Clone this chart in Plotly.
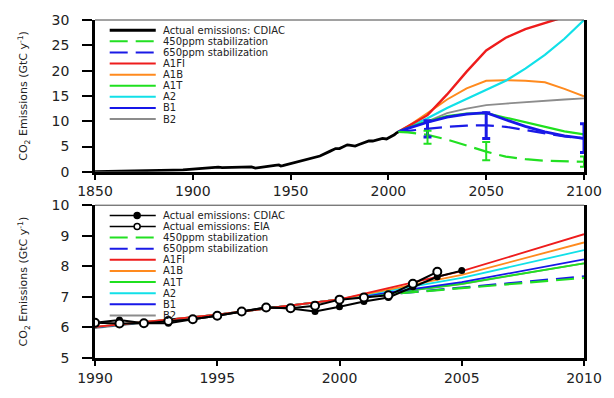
import plotly.graph_objects as go
from plotly.subplots import make_subplots

# ---------------- Top panel data (1850-2100) ----------------
hist_years = [1850, 1855, 1860, 1865, 1870, 1875, 1880, 1885, 1890, 1895, 1900, 1905,
              1910, 1913, 1915, 1918, 1919, 1920, 1921, 1925, 1929, 1930, 1932, 1935,
              1937, 1940, 1942, 1944, 1945, 1946, 1950, 1955, 1960, 1965, 1970, 1973,
              1975, 1979, 1980, 1982, 1983, 1985, 1988, 1990, 1992, 1995, 1997, 1999,
              2000, 2002, 2003, 2004, 2005]
hist_vals = [0.05, 0.07, 0.09, 0.12, 0.15, 0.19, 0.24, 0.27, 0.36, 0.40, 0.53, 0.66,
             0.82, 0.94, 0.84, 0.89, 0.80, 0.93, 0.80, 0.97, 1.05, 0.98, 0.75, 0.92,
             1.13, 1.30, 1.30, 1.37, 1.16, 1.24, 1.63, 2.04, 2.58, 3.13, 4.05, 4.60,
             4.60, 5.34, 5.30, 5.10, 5.10, 5.40, 5.90, 6.10, 6.10, 6.40, 6.60, 6.50,
             6.70, 6.98, 7.33, 7.66, 7.86]

scen_years = [2005, 2010, 2020, 2030, 2040, 2050, 2060, 2070, 2080, 2090, 2100]
a1fi = [7.9, 9.0, 11.2, 15.3, 19.8, 24.0, 26.5, 28.2, 29.4, 30.6, 31.5]
a1b = [7.9, 9.0, 11.6, 14.3, 16.5, 18.0, 18.1, 18.0, 17.7, 16.4, 14.9]
a1t = [7.9, 8.7, 10.0, 11.0, 11.5, 11.6, 10.7, 9.8, 8.8, 8.0, 7.4]
a2 = [7.9, 8.8, 10.6, 12.6, 14.4, 16.1, 18.0, 20.4, 23.1, 26.3, 30.0]
b1 = [7.9, 8.6, 9.8, 10.8, 11.4, 11.7, 10.3, 9.0, 7.9, 7.1, 6.6]
b2 = [7.9, 8.7, 10.0, 11.6, 12.5, 13.2, 13.5, 13.8, 14.1, 14.3, 14.5]
s450 = [7.9, 7.8, 7.3, 6.4, 5.2, 4.0, 3.0, 2.5, 2.2, 2.1, 2.0]
s650 = [7.9, 8.1, 8.6, 8.9, 9.15, 9.2, 8.9, 8.3, 7.6, 7.0, 6.6]

err_years = [2020, 2050, 2100]
err450_c = [7.3, 4.0, 2.0]
err450_up = [0.8, 1.9, 1.05]
err450_dn = [1.75, 1.7, 1.0]
err650_c = [8.6, 9.2, 6.6]
err650_up = [1.5, 2.5, 2.9]
err650_dn = [1.7, 2.6, 2.75]

# ---------------- Bottom panel data (1990-2010) ----------------
cdiac_years = list(range(1990, 2006))
cdiac_vals = [6.15, 6.24, 6.14, 6.14, 6.27, 6.38, 6.52, 6.66, 6.62, 6.52, 6.68,
              6.85, 6.98, 7.33, 7.66, 7.86]
eia_years = list(range(1990, 2005))
eia_vals = [6.15, 6.13, 6.14, 6.21, 6.27, 6.38, 6.52, 6.65, 6.63, 6.71, 6.91,
            6.98, 7.05, 7.43, 7.82]

scen_b_years = [1990, 1995, 2000, 2005, 2010]
a1fi_b = [6.02, 6.42, 6.92, 7.84, 9.05]
a1b_b = [6.02, 6.42, 6.92, 7.72, 8.78]
a1t_b = [6.0, 6.42, 6.92, 7.43, 8.10]
a2_b = [6.02, 6.42, 6.92, 7.62, 8.53]
b1_b = [6.0, 6.42, 6.92, 7.48, 8.23]
b2_b = [5.98, 6.42, 6.92, 7.42, 8.10]
stab_b_years = [2002.5, 2010]
s450_b = [7.12, 7.62]
s650_b = [7.12, 7.67]

# ---------------- Styles ----------------
C_BLACK = "#000000"
C_G450 = "#22e022"
C_B650 = "#1a1ae6"
C_A1FI = "#ee1c1c"
C_A1B = "#ff8a1e"
C_A1T = "#1fe01f"
C_A2 = "#11e0e8"
C_B1 = "#1717e8"
C_B2 = "#8c8c8c"
DASH = "18px,8px"
FONT = "DejaVu Sans"

fig = make_subplots(rows=2, cols=1)

def line(x, y, color, width, row, dash=None):
    fig.add_trace(go.Scatter(x=x, y=y, mode="lines", showlegend=False,
                             line=dict(color=color, width=width, dash=dash),
                             hoverinfo="skip"), row=row, col=1)

# Top panel
line(scen_years, b2, C_B2, 1.8, 1)
line(scen_years, a1b, C_A1B, 2, 1)
line(scen_years, a2, C_A2, 2.2, 1)
line(scen_years, a1fi, C_A1FI, 2.4, 1)
line(scen_years, a1t, C_A1T, 2.2, 1)
line(scen_years, b1, C_B1, 2.8, 1)
line(scen_years, s650, C_B650, 2.2, 1, DASH)
line(scen_years, s450, C_G450, 2.2, 1, DASH)
fig.add_trace(go.Scatter(x=err_years, y=err650_c, mode="markers", showlegend=False,
                         marker=dict(size=1, color="rgba(0,0,0,0)"),
                         error_y=dict(type="data", symmetric=False, array=err650_up,
                                      arrayminus=err650_dn, color=C_B650, thickness=3, width=4)),
              row=1, col=1)
fig.add_trace(go.Scatter(x=err_years, y=err450_c, mode="markers", showlegend=False,
                         marker=dict(size=1, color="rgba(0,0,0,0)"),
                         error_y=dict(type="data", symmetric=False, array=err450_up,
                                      arrayminus=err450_dn, color=C_G450, thickness=2, width=4)),
              row=1, col=1)
line(hist_years, hist_vals, C_BLACK, 2.8, 1)

# Bottom panel
line(scen_b_years, b2_b, C_B2, 1.8, 2)
line(scen_b_years, a1t_b, C_A1T, 1.8, 2)
line(scen_b_years, b1_b, C_B1, 1.8, 2)
line(scen_b_years, a2_b, C_A2, 1.8, 2)
line(scen_b_years, a1b_b, C_A1B, 1.8, 2)
line(scen_b_years, a1fi_b, C_A1FI, 1.8, 2)
line(stab_b_years, s650_b, C_B650, 2.2, 2, DASH)
line(stab_b_years, s450_b, C_G450, 2.2, 2, DASH)
fig.add_trace(go.Scatter(x=cdiac_years, y=cdiac_vals, mode="lines+markers", showlegend=False,
                         line=dict(color=C_BLACK, width=2),
                         marker=dict(symbol="circle", size=7, color=C_BLACK)), row=2, col=1)
fig.add_trace(go.Scatter(x=eia_years, y=eia_vals, mode="lines+markers", showlegend=False,
                         line=dict(color=C_BLACK, width=2),
                         marker=dict(symbol="circle", size=8, color="white",
                                     line=dict(color=C_BLACK, width=2))), row=2, col=1)

# ---------------- Custom compact legends ----------------
top_entries = [("Actual emissions: CDIAC", C_BLACK, None, 3, None),
               ("450ppm stabilization", C_G450, DASH, 2, None),
               ("650ppm stabilization", C_B650, DASH, 2, None),
               ("A1FI", C_A1FI, None, 2, None),
               ("A1B", C_A1B, None, 2, None),
               ("A1T", C_A1T, None, 2, None),
               ("A2", C_A2, None, 2, None),
               ("B1", C_B1, None, 2, None),
               ("B2", C_B2, None, 2, None)]
bot_entries = [("Actual emissions: CDIAC", C_BLACK, None, 1.5, "filled"),
               ("Actual emissions: EIA", C_BLACK, None, 1.5, "open"),
               ("450ppm stabilization", C_G450, DASH, 2, None),
               ("650ppm stabilization", C_B650, DASH, 2, None),
               ("A1FI", C_A1FI, None, 2, None),
               ("A1B", C_A1B, None, 2, None),
               ("A1T", C_A1T, None, 2, None),
               ("A2", C_A2, None, 2, None),
               ("B1", C_B1, None, 2, None),
               ("B2", C_B2, None, 2, None)]

PW = 499.0
def add_legend(entries, xr, yr, ph, first, step):
    for i, (name, color, dash, w, mk) in enumerate(entries):
        yd = 1 - (first + step * i) / ph
        fig.add_shape(type="line", xref=xr, yref=yr, x0=15 / PW, x1=62 / PW, y0=yd, y1=yd,
                      line=dict(color=color, width=w, dash=dash))
        if mk:
            fig.add_shape(type="circle", xref=xr, yref=yr, xsizemode="pixel", ysizemode="pixel",
                          xanchor=43 / PW, yanchor=yd, x0=-3, x1=3, y0=-3, y1=3,
                          fillcolor="black" if mk == "filled" else "white",
                          line=dict(color="black", width=1.5))
        fig.add_annotation(xref=xr, yref=yr, x=68 / PW, y=yd, text=name, showarrow=False,
                           xanchor="left", yanchor="middle", borderpad=0,
                           font=dict(family=FONT, size=10, color="#222"))

add_legend(top_entries, "x domain", "y domain", 164.0, 11, 12)
add_legend(bot_entries, "x2 domain", "y2 domain", 165.0, 11, 12)

# top border lines
for xr, yr in (("x domain", "y domain"), ("x2 domain", "y2 domain")):
    fig.add_shape(type="line", xref=xr, yref=yr, x0=0, x1=1, y0=1, y1=1,
                  line=dict(color="#444", width=1))

axis_common = dict(showgrid=False, zeroline=False, showline=True, linecolor="black",
                   ticks="outside", tickcolor="black",
                   tickfont=dict(family=FONT, size=14, color="#222"))
ytitle = "CO<sub>2</sub> Emissions (GtC y<sup>-1</sup>)"

fig.update_xaxes(**axis_common, linewidth=2.5, ticklen=5, tickwidth=1.5, mirror=False)
fig.update_yaxes(**axis_common, linewidth=2.5, ticklen=10, tickwidth=1.5, mirror=True,
                 ticklabelstandoff=10,
                 title=dict(text=ytitle, font=dict(family=FONT, size=11, color="#222"),
                            standoff=22))

fig.update_xaxes(range=[1850, 2100], tickvals=[1850, 1900, 1950, 2000, 2050, 2100], row=1, col=1)
fig.update_yaxes(range=[0, 30], tickvals=[0, 5, 10, 15, 20, 25, 30], row=1, col=1)
fig.update_xaxes(range=[1990, 2010], tickvals=[1990, 1995, 2000, 2005, 2010], row=2, col=1)
fig.update_yaxes(range=[5, 10], tickvals=[5, 6, 7, 8, 9, 10], row=2, col=1)

fig.update_layout(
    width=614, height=398,
    margin=dict(l=95, r=20, t=12, b=21),
    paper_bgcolor="white", plot_bgcolor="white",
    showlegend=False,
    yaxis=dict(domain=[1 - 164 / 365, 1]),
    yaxis2=dict(domain=[0, 165 / 365]),
    xaxis=dict(domain=[0, 1]), xaxis2=dict(domain=[0, 1]),
)

fig.write_html("out.html")
